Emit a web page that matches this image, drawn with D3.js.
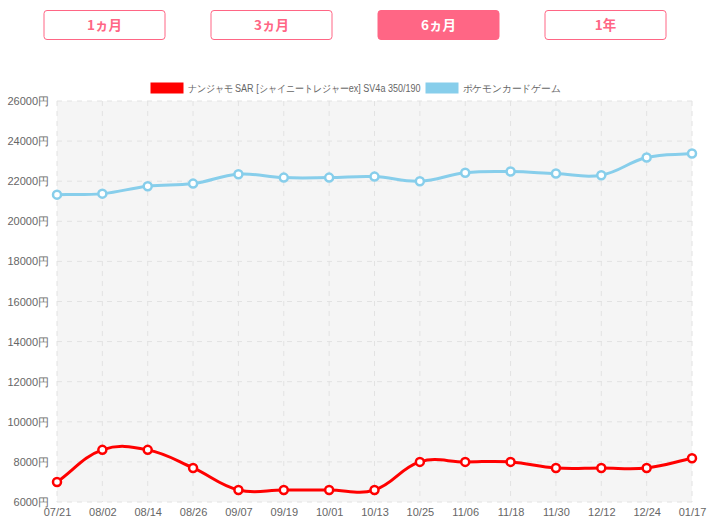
<!DOCTYPE html>
<html><head><meta charset="utf-8">
<script src="https://cdn.jsdelivr.net/npm/d3@7"></script>
<style>
html,body{margin:0;padding:0;background:#fff;}
svg{display:block;}
</style></head>
<body>
<svg id="chart" width="711" height="529"></svg>
<script>
const periodLabels = ["1ヵ月", "3ヵ月", "6ヵ月", "1年"];
const activePeriod = "6ヵ月";
const dates = ["07/21","08/02","08/14","08/26","09/07","09/19","10/01","10/13","10/25","11/06","11/18","11/30","12/12","12/24","01/17"];
const seriesNames = ["ナンジャモ SAR [シャイニートレジャーex] SV4a 350/190", "ポケモンカードゲーム"];
const cardPrices = [7000, 8600, 8600, 7700, 6600, 6600, 6600, 6600, 8000, 8000, 8000, 7700, 7700, 7700, 8180];
const gamePrices = [21330, 21380, 21750, 21880, 22350, 22180, 22180, 22230, 22000, 22420, 22480, 22380, 22300, 23180, 23380];
const yTicks = [6000, 8000, 10000, 12000, 14000, 16000, 18000, 20000, 22000, 24000, 26000];
const colors = ["#ff0000", "#87ceeb"];

const svg = d3.select("#chart");
const pink = "#ff6685";
const font = "'Liberation Sans', Arial, Helvetica, sans-serif";

// buttons
const btnX = d3.scalePoint().domain(periodLabels).range([104.5, 605.5]);
const btns = svg.selectAll("g.btn").data(periodLabels).join("g")
  .attr("transform", d => `translate(${btnX(d)},25)`);
btns.append("rect")
  .attr("x", -60.5).attr("y", -14.5).attr("width", 121).attr("height", 29).attr("rx", 3)
  .attr("fill", d => d === activePeriod ? pink : "#fff")
  .attr("stroke", pink).attr("stroke-width", 1);
btns.append("text")
  .attr("text-anchor", "middle").attr("dy", "0.36em")
  .attr("font-family", "'Noto Sans CJK JP', sans-serif").attr("font-weight", "bold").attr("font-size", 13.5)
  .attr("fill", d => d === activePeriod ? "#fff" : pink)
  .text(d => d);

// chart area
const pLeft = 57, pRight = 692, pTop = 101, pBottom = 502;
const x = d3.scalePoint().domain(dates).range([pLeft, pRight]);
const y = d3.scaleLinear().domain([6000, 26000]).range([pBottom, pTop]);

svg.append("rect").attr("x", pLeft).attr("y", pTop).attr("width", pRight-pLeft).attr("height", pBottom-pTop).attr("fill", "#f5f5f5");

const gridColor = "#e2e2e2";
svg.append("g").selectAll("line").data(yTicks).join("line")
  .attr("x1", pLeft).attr("x2", pRight).attr("y1", d => y(d)).attr("y2", d => y(d))
  .attr("stroke", gridColor).attr("stroke-dasharray", "5,5");
svg.append("g").selectAll("line").data(dates).join("line")
  .attr("x1", d => x(d)).attr("x2", d => x(d)).attr("y1", pTop).attr("y2", pBottom)
  .attr("stroke", gridColor).attr("stroke-dasharray", "5,5");

// axes
const yAxis = d3.axisLeft(y).tickValues(yTicks).tickFormat(d => d + "円").tickSize(0).tickPadding(8);
const gy = svg.append("g").attr("transform", `translate(${pLeft},0)`).call(yAxis);
const xAxis = d3.axisBottom(x).tickSize(0).tickPadding(6);
const gx = svg.append("g").attr("transform", `translate(0,${pBottom})`).call(xAxis);
[gy, gx].forEach(g => {
  g.select(".domain").remove();
  g.selectAll("text").attr("fill", "#666").attr("font-size", 11).attr("font-family", font);
});

// Chart.js-style spline
function splinePath(pts, t) {
  const n = pts.length;
  const clampY = v => Math.max(pTop, Math.min(pBottom, v));
  const cps = pts.map((p, i) => {
    const prev = pts[i-1] || p, next = pts[i+1] || p;
    const d01 = Math.hypot(p[0]-prev[0], p[1]-prev[1]);
    const d12 = Math.hypot(next[0]-p[0], next[1]-p[1]);
    let s01 = d01/(d01+d12), s12 = d12/(d01+d12);
    if (isNaN(s01)) s01 = 0; if (isNaN(s12)) s12 = 0;
    const fa = t*s01, fb = t*s12;
    return {
      prev: [p[0] - fa*(next[0]-prev[0]), clampY(p[1] - fa*(next[1]-prev[1]))],
      next: [p[0] + fb*(next[0]-prev[0]), clampY(p[1] + fb*(next[1]-prev[1]))]
    };
  });
  const path = d3.path();
  path.moveTo(pts[0][0], pts[0][1]);
  for (let i = 1; i < n; i++) {
    path.bezierCurveTo(cps[i-1].next[0], cps[i-1].next[1], cps[i].prev[0], cps[i].prev[1], pts[i][0], pts[i][1]);
  }
  return path.toString();
}

const series = [cardPrices, gamePrices];
series.forEach((vals, si) => {
  const pts = vals.map((v, i) => [x(dates[i]), y(v)]);
  svg.append("path").attr("d", splinePath(pts, 0.4))
    .attr("fill", "none").attr("stroke", colors[si]).attr("stroke-width", 3);
  svg.append("g").selectAll("circle").data(pts).join("circle")
    .attr("cx", d => d[0]).attr("cy", d => d[1]).attr("r", 4)
    .attr("fill", "#fff").attr("stroke", colors[si]).attr("stroke-width", 2.5);
});

// legend
const leg = svg.append("g");
const legFont = 10;
const maxTextW = [233, 98];
const items = seriesNames.map((name, i) => {
  const g = leg.append("g");
  g.append("rect").attr("width", 33).attr("height", 11).attr("fill", colors[i]);
  const t = g.append("text").attr("x", 37).attr("y", 5.5).attr("dy", "0.35em")
    .attr("font-size", legFont).attr("font-family", font).attr("fill", "#666").text(name);
  let w = t.node().getComputedTextLength();
  if (w > maxTextW[i]) { t.attr("textLength", maxTextW[i]).attr("lengthAdjust", "spacingAndGlyphs"); w = maxTextW[i]; }
  return {g, w: 37 + w};
});
const gap = 5;
const total = d3.sum(items, d => d.w) + gap*(items.length-1);
let cx = 355.5 - total/2;
items.forEach(it => { it.g.attr("transform", `translate(${cx},82.5)`); cx += it.w + gap; });
</script>
</body></html>
